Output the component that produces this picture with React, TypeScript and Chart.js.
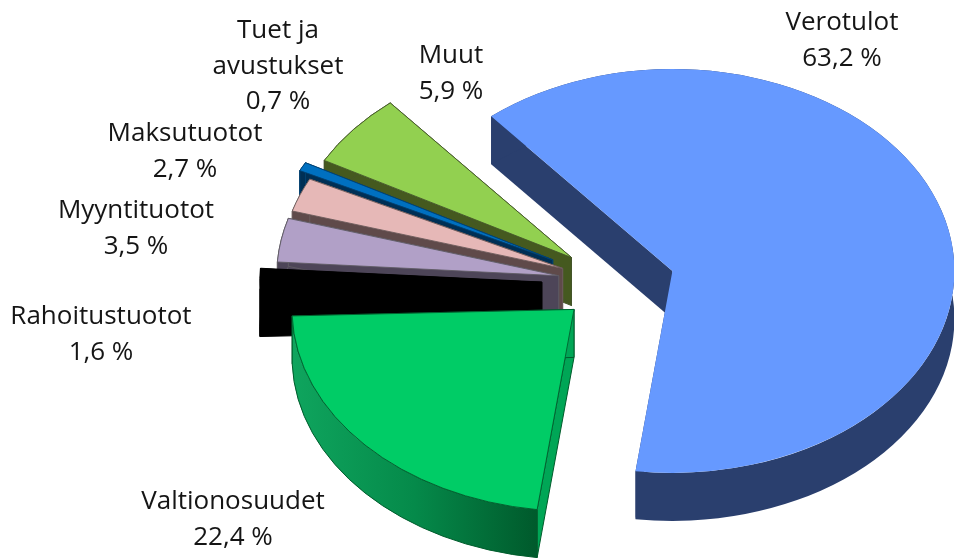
import React, { useEffect, useRef } from "react";
import { Chart, registerables } from "chart.js";

Chart.register(...registerables);

const categories = ["Verotulot", "Valtionosuudet", "Rahoitustuotot", "Myyntituotot", "Maksutuotot", "Tuet ja avustukset", "Muut"];
const shares = [63.2, 22.4, 1.6, 3.5, 2.7, 0.7, 5.9];
const shareLabels = ["63,2 %", "22,4 %", "1,6 %", "3,5 %", "2,7 %", "0,7 %", "5,9 %"];
const nameLines = [["Verotulot"], ["Valtionosuudet"], ["Rahoitustuotot"], ["Myyntituotot"], ["Maksutuotot"], ["Tuet ja", "avustukset"], ["Muut"]];

const topColors = ["#6699ff", "#00cc66", "#000000", "#b1a0c7", "#e6b8b7", "#0070c0", "#92d050"];
const wallColors = ["#2a3f6e", "#0a9a55", "#000000", "#4d4558", "#5f4a4a", "#002f55", "#45591f"];
const cutColors = ["#2a3f6e", "#00a656", "#000000", "#4d4558", "#5f4a4a", "#002f55", "#45591f"];
const edgeColors = ["#6699ff", "#005c2c", "#000000", "#5e5a62", "#6a5a5a", "#004070", "#44552a"];

const explode = [60, 55, 73, 57, 56, 70, 56];
const labelCenters = [[842, 23], [233, 502], [101, 317], [136, 211], [185, 134], [278, 31], [451, 56]];

const CX = 614.8;
const CY = 283;
const RADIUS = 282;
const SQUASH = 0.716;
const DEPTH = 48;
const LINE = 35.3;

const pie3d = {
  id: "pie3d",
  beforeDatasetsDraw(chart: any) {
    const ctx = chart.ctx;
    const arcs = chart.getDatasetMeta(0).data;
    const mid = (a: any) => (a.startAngle + a.endAngle) / 2;
    const place = (a: any, i: number) => [CX + explode[i] * Math.cos(mid(a)), CY + explode[i] * Math.sin(mid(a)) * SQUASH];

    // side walls, back to front
    const order = [0, 6, 5, 4, 3, 2, 1];
    for (const i of order) {
      const a = arcs[i];
      const [px, py] = place(a, i);
      const r = a.outerRadius;
      const ry = r * SQUASH;
      const quad = (t: number) => {
        const x = px + r * Math.cos(t);
        const y = py + ry * Math.sin(t);
        ctx.beginPath();
        ctx.moveTo(px, py);
        ctx.lineTo(x, y);
        ctx.lineTo(x, y + DEPTH);
        ctx.lineTo(px, py + DEPTH);
        ctx.closePath();
        ctx.fillStyle = cutColors[i];
        ctx.fill();
        if (i !== 0) {
          ctx.lineWidth = 1;
          ctx.strokeStyle = edgeColors[i];
          ctx.stroke();
        }
      };
      quad(a.startAngle);
      quad(a.endAngle);
      ctx.beginPath();
      ctx.ellipse(px, py, r, ry, 0, a.startAngle, a.endAngle);
      ctx.ellipse(px, py + DEPTH, r, ry, 0, a.endAngle, a.startAngle, true);
      ctx.closePath();
      if (i === 1) {
        const g = ctx.createLinearGradient(px - r, 0, px - 38, 0);
        g.addColorStop(0, "#0fa55e");
        g.addColorStop(0.5, "#058a4a");
        g.addColorStop(1, "#005a2c");
        ctx.fillStyle = g;
      } else {
        ctx.fillStyle = wallColors[i];
      }
      ctx.fill();
      if (i !== 0) {
        ctx.lineWidth = 1;
        ctx.strokeStyle = edgeColors[i];
        ctx.stroke();
      }
    }

    // top faces: the library's own arc elements, squashed and pulled apart
    for (const i of order) {
      const a = arcs[i];
      const [px, py] = place(a, i);
      ctx.save();
      ctx.translate(px, py);
      ctx.scale(1, SQUASH);
      ctx.translate(-a.x, -a.y);
      a.draw(ctx);
      ctx.restore();
    }
    return false;
  },
  afterDraw(chart: any) {
    const ctx = chart.ctx;
    ctx.save();
    ctx.fillStyle = "#151515";
    ctx.font = '26px "Open Sans"';
    ctx.textAlign = "center";
    ctx.textBaseline = "middle";
    categories.forEach((_, i) => {
      const [x, y] = labelCenters[i];
      const lines = [...nameLines[i], shareLabels[i]];
      lines.forEach((t, k) => ctx.fillText(t, x, y + k * LINE));
    });
    ctx.restore();
  },
};

export default function App() {
  const ref = useRef<HTMLCanvasElement>(null);
  useEffect(() => {
    const chart = new Chart(ref.current as HTMLCanvasElement, {
      type: "pie",
      data: {
        labels: categories,
        datasets: [
          {
            data: shares,
            backgroundColor: topColors,
            borderColor: edgeColors,
            borderWidth: [0, 1, 0, 1, 1, 1, 1],
          },
        ],
      },
      options: {
        responsive: false,
        animation: false,
        rotation: -40,
        radius: RADIUS,
        layout: { padding: 0 },
        plugins: { legend: { display: false }, tooltip: { enabled: false } },
      },
      plugins: [pie3d],
    } as any);
    return () => chart.destroy();
  }, []);
  return (
    <div style={{ position: "absolute", left: 0, top: 0, width: 954, height: 558, background: "#ffffff" }}>
      <canvas ref={ref} width={954} height={558} style={{ display: "block", filter: "blur(0.4px)" }} />
    </div>
  );
}
